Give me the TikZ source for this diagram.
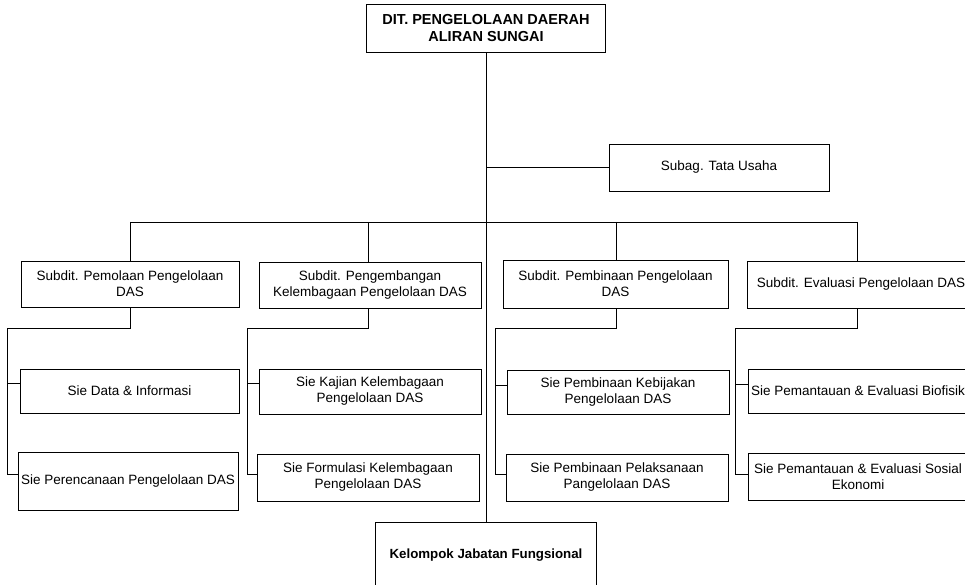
\documentclass[tikz,border=0pt]{standalone}
\usepackage{fontspec}
\setmainfont{Liberation Sans}
\begin{document}
\begin{tikzpicture}[x=1pt,y=-1pt,
  box/.style={draw, line width=0.9pt, inner sep=0pt, align=center,
              font=\fontsize{13.5}{16}\selectfont},
  ln/.style={line width=0.9pt}]
\useasboundingbox (0,0) rectangle (965,585);

% top and staff
\node[box, minimum width=239pt, minimum height=48pt,
      font=\bfseries\fontsize{14.5}{16.5}\selectfont] (top) at (486,28)
      {DIT. PENGELOLAAN DAERAH\\ALIRAN SUNGAI};
\node[box, minimum width=220pt, minimum height=47pt] (subag) at (719,167.5) {Subag. Tata Usaha};
\node[box, minimum width=221pt, minimum height=66pt,
      font=\bfseries\fontsize{13.3}{16}\selectfont] (kjf) at (486,555) {Kelompok Jabatan Fungsional};

% subdit row
\node[box, minimum width=218pt, minimum height=46pt] (s1) at (130,284) {Subdit. Pemolaan Pengelolaan\\DAS};
\node[box, minimum width=222pt, minimum height=46pt] (s2) at (370,285) {Subdit. Pengembangan\\Kelembagaan Pengelolaan DAS};
\node[box, minimum width=225pt, minimum height=48pt] (s3) at (615.5,284) {Subdit. Pembinaan Pengelolaan\\DAS};
\node[box, minimum width=228pt, minimum height=47pt] (s4) at (861,284.5) {Subdit. Evaluasi Pengelolaan DAS};

% sie boxes
\node[box, minimum width=219pt, minimum height=44pt] (c1a) at (129.5,391) {Sie Data \& Informasi};
\node[box, minimum width=220pt, minimum height=58pt] (c1b) at (128,481) {Sie Perencanaan Pengelolaan DAS};
\node[box, minimum width=222pt, minimum height=45pt] (c2a) at (370,391.5) {Sie Kajian Kelembagaan\\Pengelolaan DAS};
\node[box, minimum width=222pt, minimum height=47pt] (c2b) at (368,477.5) {Sie Formulasi Kelembagaan\\Pengelolaan DAS};
\node[box, minimum width=222pt, minimum height=44pt] (c3a) at (618,392) {Sie Pembinaan Kebijakan\\Pengelolaan DAS};
\node[box, minimum width=222pt, minimum height=47pt] (c3b) at (617,477.5) {Sie Pembinaan Pelaksanaan\\Pangelolaan DAS};
\node[box, minimum width=220pt, minimum height=44pt] (c4a) at (858,391) {Sie Pemantauan \& Evaluasi Biofisik};
\node[box, minimum width=220pt, minimum height=47pt] (c4b) at (858,476.5) {Sie Pemantauan \& Evaluasi Sosial\\Ekonomi};

% trunk and staff link
\draw[ln] (top.south) -- (kjf.north);
\draw[ln] (top.south |- subag.west) -- (subag.west);

% bus to subdits
\coordinate (v1) at (130,222);
\coordinate (v2) at (368,222);
\coordinate (v3) at (616,222);
\coordinate (v4) at (857,222);
\draw[ln] (v1) -- (v4);
\draw[ln] (v1) -- (v1 |- s1.north);
\draw[ln] (v2) -- (v2 |- s2.north);
\draw[ln] (v3) -- (v3 |- s3.north);
\draw[ln] (v4) -- (v4 |- s4.north);

% subdit to sie
\coordinate (e1) at (7,328);
\coordinate (e2) at (247,328);
\coordinate (e3) at (495,328);
\coordinate (e4) at (735,328);
\draw[ln] (v1 |- s1.south) -- (v1 |- e1) -- (e1) |- (c1b.west |- 0,474);
\draw[ln] (e1 |- c1a.west |- 0,383) -- (c1a.west |- 0,383);
\draw[ln] (v2 |- s2.south) -- (v2 |- e2) -- (e2) |- (c2b.west |- 0,474);
\draw[ln] (e2 |- 0,383) -- (c2a.west |- 0,383);
\draw[ln] (v3 |- s3.south) -- (v3 |- e3) -- (e3) |- (c3b.west |- 0,474);
\draw[ln] (e3 |- 0,385) -- (c3a.west |- 0,385);
\draw[ln] (v4 |- s4.south) -- (v4 |- e4) -- (e4) |- (c4b.west |- 0,474);
\draw[ln] (e4 |- 0,384) -- (c4a.west |- 0,384);
\end{tikzpicture}
\end{document}
